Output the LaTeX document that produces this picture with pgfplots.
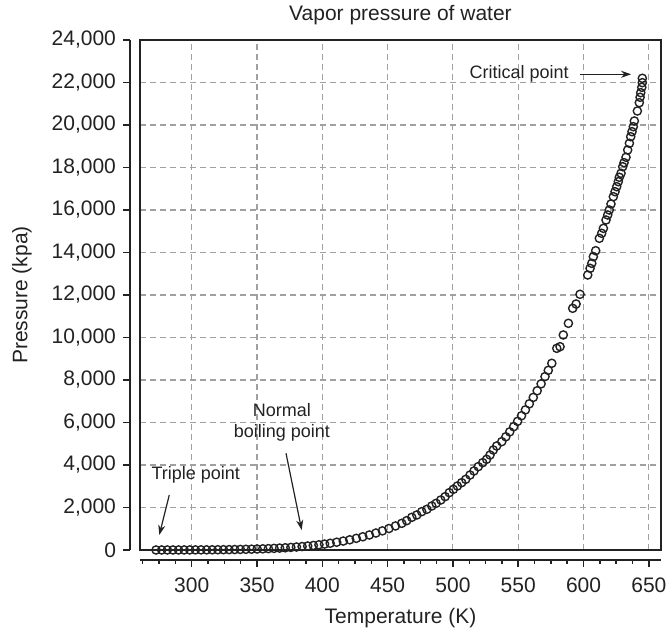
\documentclass[border=0pt]{standalone}
\usepackage{fontspec}
\setmainfont{Liberation Sans}
\usepackage{pgfplots}
\pgfplotsset{compat=1.18}
\usetikzlibrary{arrows.meta}
\definecolor{txt}{HTML}{222222}
\definecolor{gridc}{HTML}{A0A0A0}

\begin{document}
\begin{tikzpicture}
\begin{axis}[
  width=260.5pt, height=255pt, scale only axis,
  xmin=260.4, xmax=659.3, ymin=0, ymax=24000,
  clip=false,
  axis x line*=bottom, axis y line*=left,
  axis x line shift=5pt, axis y line shift=5pt,
  axis line style={line width=1.25pt, txt},
  xtick={300,350,...,650},
  minor xtick={262.5,275,...,650},
  ytick={0,2000,...,24000},
  scaled y ticks=false,
  tick align=outside,
  major tick length=3.5pt, minor tick length=2pt,
  every tick/.style={line width=0.75pt, txt},
  grid=major,
  major grid style={gridc, line width=0.55pt, dash pattern=on 3pt off 2pt},
  /pgf/number format/assume math mode=true,
  /pgf/number format/1000 sep={,},
  tick label style={font=\fontsize{10.5}{12}\selectfont, text=txt},
  xticklabel style={yshift=-2pt},
  every axis title shift=0pt,
  title={Vapor pressure of water},
  title style={at={(axis description cs:0.5,1.049)}, anchor=center,
    font=\fontsize{10.5}{12}\selectfont, text=txt},
  xlabel={Temperature (K)},
  xlabel style={at={(axis description cs:0.5,-0.1333)}, anchor=center,
    font=\fontsize{10.5}{12}\selectfont, text=txt},
  ylabel={Pressure (kpa)},
  ylabel style={at={(axis description cs:-0.2265,0.5)}, anchor=center,
    font=\fontsize{10.5}{12}\selectfont, text=txt},
]
% box round the plot area
\draw[line width=1pt, txt] (rel axis cs:0,0) rectangle (rel axis cs:1,1);
\coordinate (bl) at (rel axis cs:0,0);
\coordinate (tr) at (rel axis cs:1,1);

\addplot[only marks, mark=o, mark size=2.05pt,
  mark options={line width=0.7pt, draw=txt}] coordinates {
(272.7,0.71)(277.0,0.96)(281.3,1.27)(285.6,1.69)(289.9,2.22)(294.2,2.89)
(298.5,3.75)(302.8,4.78)(307.1,6.09)(311.4,7.65)(315.7,9.60)(320.0,11.9)
(324.3,14.7)(328.6,18.1)(332.9,22.0)(337.2,26.8)(341.5,32.2)(345.8,38.8)
(350.1,46.3)(354.4,54.9)(358.7,65.1)(363.0,76.5)(367.3,89.9)(371.6,104.7)
(375.9,121.9)(380.2,141.0)(384.5,162.5)(388.8,186.9)(393.1,214.0)(397.4,245.1)
(401.7,278.6)
(406,316.8)(411,365.3)(416,419.8)(421,480.1)(426,548.0)(431,622.8)
(436,706.5)(441,797.8)(446,899.2)(451,1009.3)(456,1130.8)
(460.8,1255)(464.6,1380)(468.5,1537)(472.3,1647)(476.1,1804)(480.0,1914)
(483.8,2071)(487.1,2196)(490.7,2353)(494.0,2510)(497.2,2698)(500.3,2855)
(503.4,3012)(506.7,3169)(509.8,3325)(513.1,3529)(516.1,3718)(519.4,3922)
(522.8,4110)(525.8,4267)(528.4,4471)(530.9,4706)(533.5,4894)(537.4,5098)
(540.5,5328)(543.5,5560)(546.5,5802)(549.5,6054)(552.5,6318)(555.5,6593)
(558.5,6880)(561.5,7180)(564.5,7493)(567.5,7819)(570.5,8160)(573.0,8455)
(575.7,8786)(579.5,9490)(582.0,9567)(584.5,10118)(588.4,10667)(591.7,11373)
(594.3,11576)(597.3,12033)(603.2,12941)(605.0,13255)(606.3,13490)(607.5,13802)
(609.3,14084)
(612.1,14667)(613.9,14902)(615.2,15137)(617.2,15529)(618.5,15765)(619.7,16000)
(621.0,16282)(622.8,16626)(624.1,16861)(625.4,17096)(626.6,17332)(627.4,17539)
(628.7,17727)(630.0,18038)(631.0,18226)(632.5,18480)(633.8,18824)(635.1,19138)
(636.1,19449)(637.1,19685)(638.1,19920)(638.9,20188)(641.2,20659)(642.7,21049)
(643.3,21304)(643.8,21520)(644.6,21774)(645.0,21991)(645.0,22198)
};

% annotations
\node[anchor=east, inner sep=0pt, font=\fontsize{9}{10.5}\selectfont, text=txt]
  at (axis cs:588.9,22386) {Critical point};
\draw[txt, line width=0.6pt, -{Stealth[length=5pt,width=3.5pt]}]
  (axis cs:597.3,22386) -- (axis cs:636.4,22386);
\node[align=center, inner sep=0pt, font=\fontsize{9}{10.5}\selectfont, text=txt]
  at (axis cs:369.1,6024) {Normal\\boiling point};
\draw[txt, line width=0.6pt, -{Stealth[length=5pt,width=3.5pt]}]
  (axis cs:372.2,4551) -- (axis cs:384.2,941);
\node[inner sep=0pt, font=\fontsize{9}{10.5}\selectfont, text=txt]
  at (axis cs:303.1,3529) {Triple point};
\draw[txt, line width=0.6pt, -{Stealth[length=5pt,width=3.5pt]}]
  (axis cs:282.8,2588) -- (axis cs:275.2,706);
\end{axis}
\pgfresetboundingbox
\path ([shift={(-70pt,-40.5pt)}]bl) rectangle ([shift={(2.5pt,20pt)}]tr);
\end{tikzpicture}
\end{document}
